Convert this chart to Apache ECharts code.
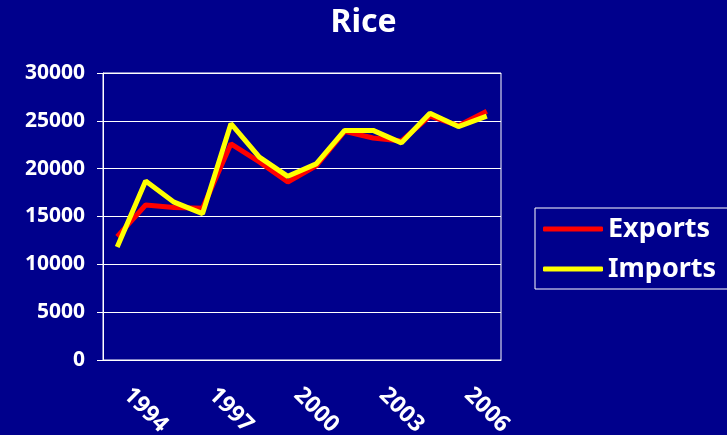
<!DOCTYPE html>
<html>
<head>
<meta charset="utf-8">
<script src="https://cdn.jsdelivr.net/npm/echarts@6/dist/echarts.min.js"></script>
<style>
  html, body { margin: 0; padding: 0; background: #00008c; }
  #chart { width: 727px; height: 435px; }
</style>
</head>
<body>
<div id="chart"></div>
<script>
const years = ['1993', '1994', '1995', '1996', '1997', '1998', '1999', '2000', '2001', '2002', '2003', '2004', '2005', '2006']
const exportsData = [12900, 16200, 15950, 15850, 22600, 20700, 18600, 20300, 23900, 23200, 22900, 25500, 24500, 26000]
const importsData = [11800, 18700, 16500, 15300, 24700, 21200, 19200, 20500, 24000, 24000, 22700, 25800, 24400, 25500]

const font = 'Noto Sans'
const chart = echarts.init(document.getElementById('chart'))

chart.setOption({
  backgroundColor: '#00008c',
  animation: false,
  title: {
    text: 'Rice',
    left: 'center',
    top: 2,
    textStyle: { color: '#fff', fontFamily: font, fontWeight: 'bold', fontSize: 32 }
  },
  grid: {
    left: 103,
    right: 226,
    top: 73,
    bottom: 75,
    outerBoundsMode: 'none',
    containLabel: false,
    show: true,
    borderColor: '#fff',
    borderWidth: 1
  },
  legend: {
    orient: 'vertical',
    left: 535,
    top: 208,
    width: 190,
    padding: [6, 12, 5, 8],
    borderColor: '#fff',
    borderWidth: 1,
    itemWidth: 60,
    itemHeight: 5,
    itemGap: 10,
    icon: 'roundRect',
    textStyle: { color: '#fff', fontFamily: font, fontWeight: 'bold', fontSize: 27, lineHeight: 30 },
    data: ['Exports', 'Imports']
  },
  xAxis: {
    type: 'category',
    data: years,
    boundaryGap: true,
    axisLine: { lineStyle: { color: '#fff', width: 1 } },
    axisTick: { interval: 0, length: 6, lineStyle: { color: '#fff' } },
    axisLabel: {
      interval: (i) => (i - 1) % 3 === 0,
      rotate: -45,
      align: 'center',
      verticalAlign: 'middle',
      margin: 50,
      color: '#fff',
      fontFamily: font,
      fontWeight: 'bold',
      fontSize: 23
    }
  },
  yAxis: {
    type: 'value',
    min: 0,
    max: 30000,
    interval: 5000,
    axisLine: { show: true, lineStyle: { color: '#fff', width: 1 } },
    axisTick: { show: true, length: 6, lineStyle: { color: '#fff' } },
    splitLine: { lineStyle: { color: '#fff', width: 1 } },
    axisLabel: {
      margin: 18,
      color: '#fff',
      fontFamily: font,
      fontWeight: 'bold',
      fontSize: 21,
      formatter: (v) => String(v)
    }
  },
  series: [
    {
      name: 'Exports',
      type: 'line',
      data: exportsData,
      showSymbol: false,
      color: '#ff0000',
      lineStyle: { width: 5, color: '#ff0000' }
    },
    {
      name: 'Imports',
      type: 'line',
      data: importsData,
      showSymbol: false,
      color: '#ffff00',
      lineStyle: { width: 5, color: '#ffff00' }
    }
  ]
})
</script>
</body>
</html>
